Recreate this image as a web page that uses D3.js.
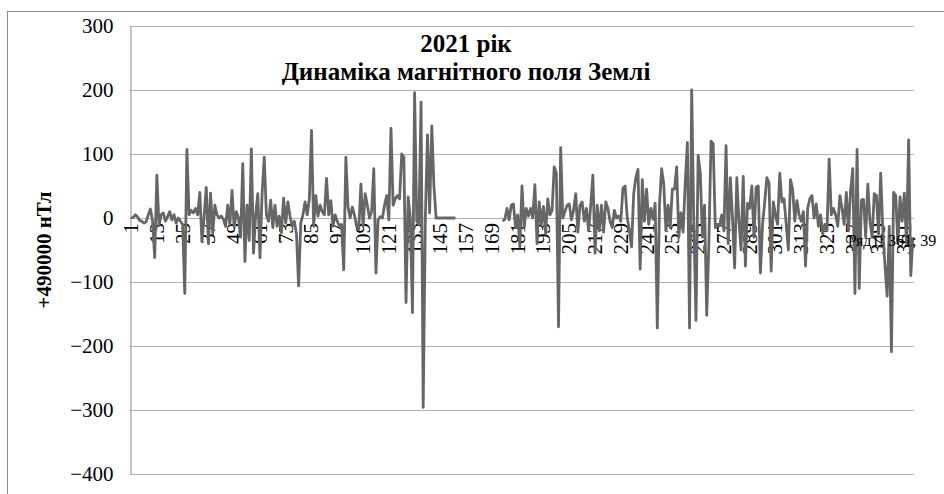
<!DOCTYPE html>
<html lang="uk">
<head>
<meta charset="UTF-8">
<title>Динаміка магнітного поля Землі</title>
<script src="https://d3js.org/d3.v7.min.js"></script>
<style>
  body { margin: 0; background: #fff; }
</style>
</head>
<body>
<div id="chart"></div>
<script>
// daily values, 2021 (offset from 490000 nT), null = no data
const values = [
  0, 1, 5, 2, -4, -5, -8, -6, 5, 14,
  -5, -62, 67, -12, 5, 8, -5, 2, 10, -3,
  5, -8, 0, -5, -10, -118, 107, 5, 12, 8,
  15, 5, 40, -37, 2, 48, -40, 39, -25, 20,
  5, 0, 3, -2, -13, 20, -10, 43, -15, 10,
  0, -30, 85, -68, 20, -35, 108, -55, 5, 38,
  -62, 38, 95, 5, -5, 28, -15, 20, -13, 3,
  -23, 31, -8, 25, 3, -13, -5, -25, -106, -8,
  5, 25, 5, 30, 137, -13, 35, 3, 20, 10,
  5, 62, 5, 27, -13, 5, -5, -13, -10, -81,
  95, 17, 0, 17, 5, -13, -18, 53, -13, 38,
  20, 0, 10, 77, -86, -3, 2, 0, 20, 35,
  -3, 140, 20, 30, 35, 30, 100, 95, -132, 33,
  0, -148, 196, -5, -10, 181, -296, 0, 130, 8,
  144, 50, 0, 0, 0, 0, 0, 0, 0, 0,
  0, 0, null, null, null, null, null, null, null, null,
  null, null, null, null, null, null, null, null, null, null,
  null, null, null, -5, -2, 15, -3, 20, 22, -15,
  5, -45, 50, -15, 15, 3, 15, 0, 52, -40,
  25, -10, 18, -25, 30, 5, 12, 80, 70, -170,
  110, 0, 10, 20, 22, -3, 12, 38, -22, 20,
  25, -5, 15, -20, 20, 67, -55, 20, -20, 20,
  -22, 25, 15, -5, -15, 12, 0, 3, -5, 47,
  50, 0, -20, -45, 38, 63, 76, -80, 60, -5,
  45, -10, 15, -2, 23, -172, 20, 77, 53, -20,
  20, -15, 45, 45, 80, -30, 8, -22, 55, 118,
  -172, 200, -10, -160, 98, 70, -30, 20, -152, -40,
  120, 116, -15, -10, -12, 5, -20, 113, -40, 63,
  0, -78, 63, -5, -50, 65, -75, 23, 15, 50,
  -30, 48, 50, -86, -10, 25, 63, 55, -83, 25,
  5, -10, 70, 25, 30, -10, -50, 60, 45, -5,
  27, 5, -5, 10, -75, 15, 30, 35, 0, 22,
  -13, 5, -25, -10, -20, 92, 5, 15, 5, -13,
  35, 15, -10, 40, -20, 44, 77, -118, 107, -110,
  28, 29, -30, 53, -5, -30, 38, 35, -25, 70,
  -20, -75, -122, -13, -209, 40, 35, -40, 33, -5,
  39, -40, 122, -90, -30
];
const days = d3.range(1, values.length + 1);
const xTickLabels = [1, 13, 25, 37, 49, 61, 73, 85, 97, 109, 121, 133, 145, 157, 169, 181,
  193, 205, 217, 229, 241, 253, 265, 277, 289, 301, 313, 325, 337, 349, 361];
const yTicks = [-400, -300, -200, -100, 0, 100, 200, 300];
const titleLines = ["2021 рік", "Динаміка магнітного поля Землі"];
const yTitle = "+490000 нТл";
const labelDay = 361;

const font = "'Liberation Serif', 'Times New Roman', Times, serif";
const width = 944, height = 494;
const plot = { left: 130, right: 914, top: 26, bottom: 474 };

const svg = d3.select("#chart").append("svg")
  .attr("width", width)
  .attr("height", height)
  .attr("font-family", font);

// chart border
svg.append("rect")
  .attr("x", 7.5).attr("y", 11.5)
  .attr("width", 960).attr("height", 520)
  .attr("fill", "none")
  .attr("stroke", "#8c8c8c");

const x = d3.scaleBand().domain(days).range([plot.left, plot.right]);
const y = d3.scaleLinear().domain([-400, 300]).range([plot.bottom, plot.top]);
const cx = d => x(d) + x.bandwidth() / 2;

// gridlines
svg.append("g")
  .selectAll("line")
  .data(yTicks)
  .join("line")
  .attr("x1", plot.left).attr("x2", plot.right)
  .attr("y1", d => Math.round(y(d)) + 0.5).attr("y2", d => Math.round(y(d)) + 0.5)
  .attr("stroke", "#b3b3b3");

// value axis
const yAxis = svg.append("g")
  .attr("transform", `translate(${plot.left + 0.5},0)`)
  .call(d3.axisLeft(y).tickValues(yTicks).tickSize(0).tickPadding(17));
yAxis.attr("font-family", font);
yAxis.select(".domain").attr("stroke", "#8c8c8c");
yAxis.selectAll("text").attr("font-size", 21);

// category axis at zero
const xAxis = svg.append("g")
  .attr("transform", `translate(0,${y(0)})`)
  .call(d3.axisBottom(x).tickValues(xTickLabels).tickSize(0));
xAxis.attr("font-family", font);
xAxis.select(".domain").remove();
xAxis.selectAll("text")
  .attr("font-size", 21)
  .attr("text-anchor", "end")
  .attr("transform", "translate(0,5) rotate(-90)")
  .attr("x", 0)
  .attr("y", 0)
  .attr("dy", "0.33em");

// series line
const line = d3.line()
  .defined(d => d != null)
  .x((d, i) => cx(days[i]))
  .y(d => y(d));

svg.append("path")
  .datum(values)
  .attr("fill", "none")
  .attr("stroke", "#666666")
  .attr("stroke-width", 2.8)
  .attr("stroke-linejoin", "round")
  .attr("d", line);

// data label
svg.append("text")
  .attr("x", cx(labelDay) + 32)
  .attr("y", y(0) + 28)
  .attr("text-anchor", "end")
  .attr("font-size", 16)
  .text(`Ряд1; ${labelDay}; ${values[labelDay - 1]}`);

// title
svg.append("text")
  .attr("x", 466)
  .attr("y", 52)
  .attr("text-anchor", "middle")
  .attr("font-size", 25)
  .attr("font-weight", "bold")
  .selectAll("tspan")
  .data(titleLines)
  .join("tspan")
  .attr("x", 466)
  .attr("dy", (d, i) => i === 0 ? 0 : 28)
  .text(d => d);

// value axis title
svg.append("text")
  .attr("transform", `translate(44,${(plot.top + plot.bottom) / 2}) rotate(-90)`)
  .attr("text-anchor", "middle")
  .attr("dy", "0.35em")
  .attr("font-size", 21)
  .attr("font-weight", "bold")
  .text(yTitle);
</script>
</body>
</html>
